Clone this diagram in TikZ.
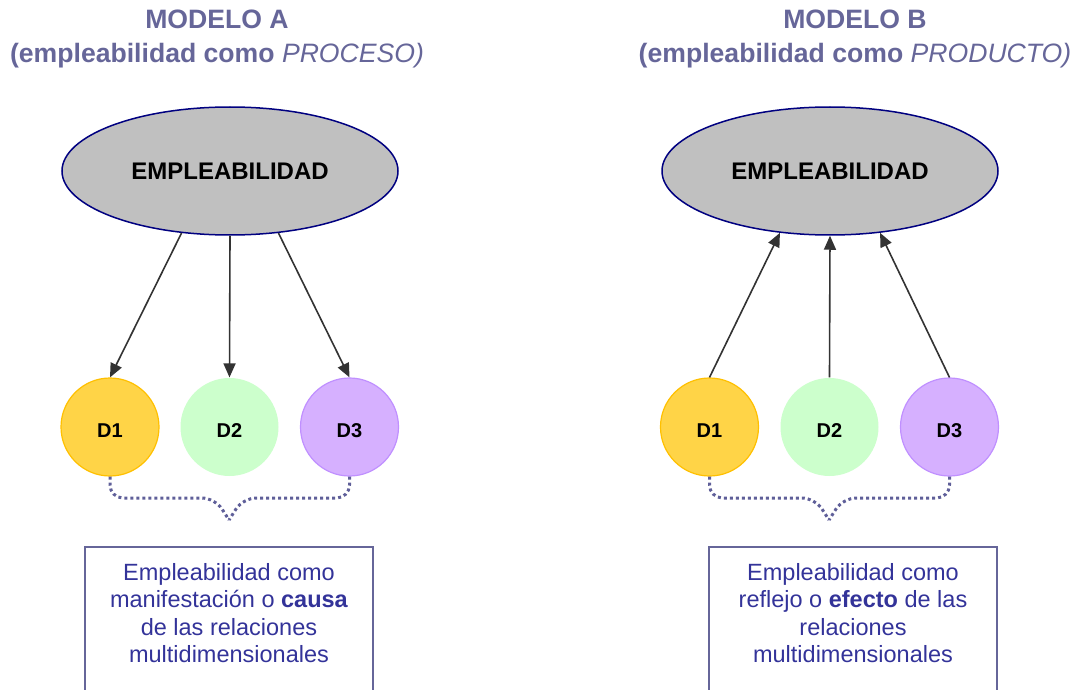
\documentclass[tikz,border=0pt]{standalone}
\usepackage{fontspec}
\setmainfont{Liberation Sans}
\usetikzlibrary{shapes.geometric,arrows.meta,calc}
\definecolor{titlecol}{HTML}{666699}
\definecolor{boxtext}{HTML}{333399}
\definecolor{ellfill}{HTML}{C0C0C0}
\definecolor{ellline}{HTML}{000080}
\definecolor{dyel}{HTML}{FFD447}
\definecolor{dyelb}{HTML}{FFC000}
\definecolor{dgreen}{HTML}{CCFFCC}
\definecolor{dpurp}{HTML}{D6B0FF}
\definecolor{dpurpb}{HTML}{C090FF}
\definecolor{bracecol}{HTML}{5F5F99}
\definecolor{arrcol}{HTML}{333333}
\tikzset{
  titlenode/.style={align=center,text=titlecol,font=\fontsize{26.6}{34}\selectfont\bfseries,inner sep=0},
  ellnode/.style={ellipse,draw=ellline,fill=ellfill,line width=1.5pt,minimum width=336pt,minimum height=128pt,inner sep=0,font=\fontsize{24}{28}\selectfont\bfseries},
  dnode/.style={circle,minimum size=98pt,inner sep=0,font=\fontsize{20}{24}\selectfont\bfseries,line width=1.2pt,text height=20pt,text depth=0pt},
  d1/.style={dnode,fill=dyel,draw=dyelb},
  d2/.style={dnode,fill=dgreen},
  d3/.style={dnode,fill=dpurp,draw=dpurpb},
  arr/.style={draw=arrcol,line width=1.6pt,-{Triangle[length=14pt,width=12pt]},fill=arrcol},
  bracepath/.style={draw=bracecol,line width=3pt,dash pattern=on 3pt off 3pt,rounded corners=13pt},
  boxline/.style={draw=titlecol,line width=2pt},
  boxtxt/.style={align=center,text=boxtext,font=\fontsize{23.5}{27.5}\selectfont,inner sep=0,anchor=north}
}
\begin{document}
\begin{tikzpicture}[x=1pt,y=-1pt]
\useasboundingbox (0,0) rectangle (1080,690);
% titles
\node[titlenode] (tA) at (217,39) {MODELO A\\(empleabilidad como \textmd{\itshape PROCESO)}};
\node[titlenode] (tB) at (855,39) {MODELO B\\(empleabilidad como \textmd{\itshape PRODUCTO)}};
% ellipses
\node[ellnode] (eA) at (230,171) {EMPLEABILIDAD};
\node[ellnode] (eB) at (830,171) {EMPLEABILIDAD};
% circles
\node[d1] (D1A) at (110,427) {D1};
\node[d2] (D2A) at (229.5,427) {D2};
\node[d3] (D3A) at (349.5,427) {D3};
\node[d1] (D1B) at (709.5,427) {D1};
\node[d2] (D2B) at (829.5,427) {D2};
\node[d3] (D3B) at (949.5,427) {D3};
% arrows A
\draw[arr] (eA.232) -- (D1A.north);
\draw[arr] (eA.south) -- (D2A.north);
\draw[arr] (eA.308) -- (D3A.north);
% arrows B
\draw[arr] (D1B.north) -- (eB.231);
\draw[arr] (D2B.north) -- (eB.south);
\draw[arr] (D3B.north) -- (eB.309);
% braces
\coordinate (bA) at (229,520);
\coordinate (bB) at (829,520);
\draw[bracepath] (D1A.south) |- ($(bA)+(-14,-22)$) -- (bA);
\draw[bracepath] (D3A.south) |- ($(bA)+(14,-22)$) -- (bA);
\draw[bracepath] (D1B.south) |- ($(bB)+(-14,-22)$) -- (bB);
\draw[bracepath] (D3B.south) |- ($(bB)+(14,-22)$) -- (bB);
% boxes
\draw[boxline] (85,700) -- (85,547) -- (373,547) -- (373,700);
\draw[boxline] (709,700) -- (709,547) -- (997,547) -- (997,700);
\node[boxtxt] (xA) at (229,563) {Empleabilidad como\\manifestación o \textbf{causa}\\de las relaciones\\multidimensionales};
\node[boxtxt] (xB) at (853,563) {Empleabilidad como\\reflejo o \textbf{efecto} de las\\relaciones\\multidimensionales};
\end{tikzpicture}
\end{document}
